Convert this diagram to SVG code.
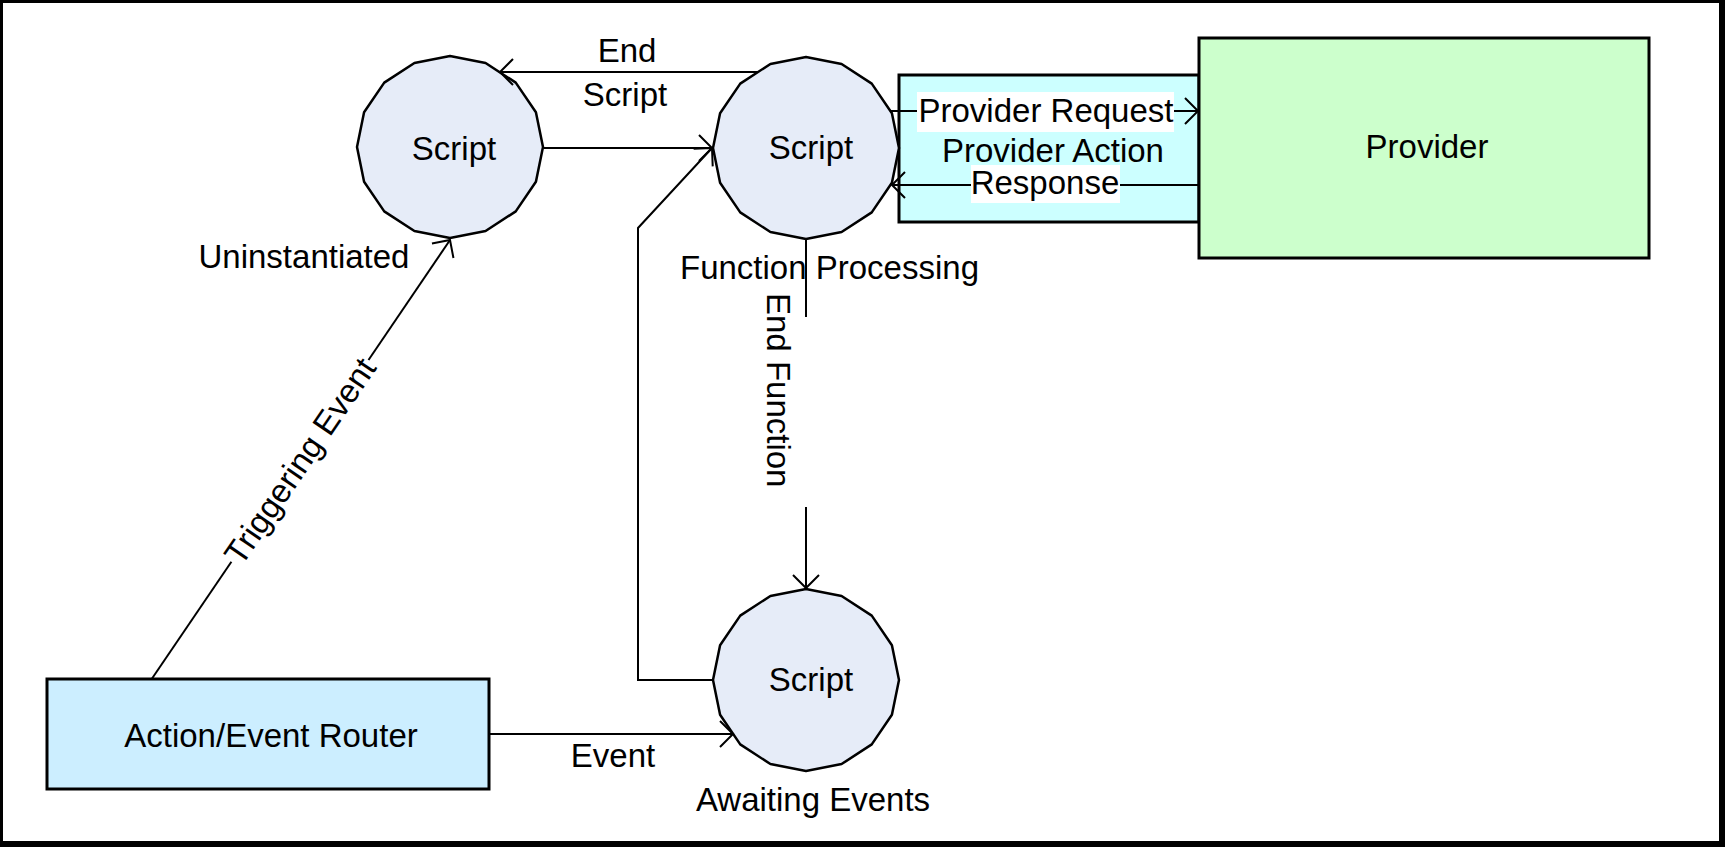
<svg xmlns="http://www.w3.org/2000/svg" width="1725" height="847" viewBox="0 0 1725 847">
<style>
text{font-family:"Liberation Sans",Arial,sans-serif;font-size:33px;fill:#000}
.mid{text-anchor:middle}
.box{stroke:#000;stroke-width:3}
.st{fill:#E6ECF8;stroke:#000;stroke-width:2.5;stroke-linejoin:round}
.ln{fill:none;stroke:#000;stroke-width:2}
.arr{marker-end:url(#arr)}
</style>
<defs>
<marker id="arr" markerUnits="userSpaceOnUse" markerWidth="32" markerHeight="32" viewBox="-16 -16 32 32" refX="0" refY="0" orient="auto" overflow="visible">
<path d="M-13,-13 L0,0 L-13,13" fill="none" stroke="#000" stroke-width="2"/>
</marker>
<polygon id="state" points="0,-91 35.59,-84.07 65.76,-64.35 85.92,-34.82 93,0 85.92,34.82 65.76,64.35 35.59,84.07 0,91 -35.59,84.07 -65.76,64.35 -85.92,34.82 -93,0 -85.92,-34.82 -65.76,-64.35 -35.59,-84.07"/>
</defs>
<rect x="0" y="0" width="1725" height="847" fill="#000"/>
<rect x="3" y="3" width="1716" height="838" fill="#fff"/>

<g id="provider-action">
<rect class="box" x="899" y="75" width="300" height="147" fill="#CCFFFF"/>
<text class="mid" x="1053" y="162">Provider Action</text>
</g>
<g id="provider">
<rect class="box" x="1199" y="38" width="450" height="220" fill="#CCFFCC"/>
<text class="mid" x="1427" y="158">Provider</text>
</g>
<g id="router">
<rect class="box" x="47" y="679" width="442" height="110" fill="#CCEEFF"/>
<text class="mid" x="271" y="747">Action/Event Router</text>
</g>
<g id="script-uninstantiated">
<use href="#state" class="st" transform="translate(450,147)"/>
<text class="mid" x="454" y="160">Script</text>
<text class="mid" x="304" y="268">Uninstantiated</text>
</g>
<g id="script-processing">
<use href="#state" class="st" transform="translate(806,148)"/>
<text class="mid" x="811" y="159">Script</text>
<text x="680" y="279">Function Processing</text>
</g>
<g id="script-awaiting">
<use href="#state" class="st" transform="translate(806,680)"/>
<text class="mid" x="811" y="691">Script</text>
<text class="mid" x="813" y="811">Awaiting Events</text>
</g>

<g id="connectors">
<line class="ln arr" x1="544" y1="148" x2="712" y2="148"/>
<line class="ln arr" x1="758" y1="72" x2="500" y2="72"/>
<text class="mid" x="627" y="62">End</text>
<text class="mid" x="625" y="106">Script</text>
<polyline class="ln arr" points="713,680 638,680 638,228 712,148"/>
<line class="ln" x1="151.7" y1="679" x2="231.4" y2="561.7"/>
<line class="ln arr" x1="368.5" y1="360" x2="450" y2="240"/>
<text class="mid" transform="translate(300,461) rotate(-55.7)" x="0" y="11.5">Triggering Event</text>
<line class="ln" x1="806" y1="239" x2="806" y2="317"/>
<line class="ln arr" x1="806" y1="507" x2="806" y2="588"/>
<text transform="translate(767,293) rotate(90)">End Function</text>
<line class="ln arr" x1="489" y1="734" x2="733" y2="734"/>
<text class="mid" x="613" y="767">Event</text>
<line class="ln arr" x1="890" y1="111" x2="1198" y2="111"/>
<rect x="917" y="92" width="257" height="40" fill="#fff"/>
<text class="mid" x="1046" y="122">Provider Request</text>
<line class="ln arr" x1="1199" y1="185" x2="892" y2="185"/>
<rect x="971" y="165" width="149" height="38" fill="#fff"/>
<text class="mid" x="1045" y="194">Response</text>
</g>
</svg>
